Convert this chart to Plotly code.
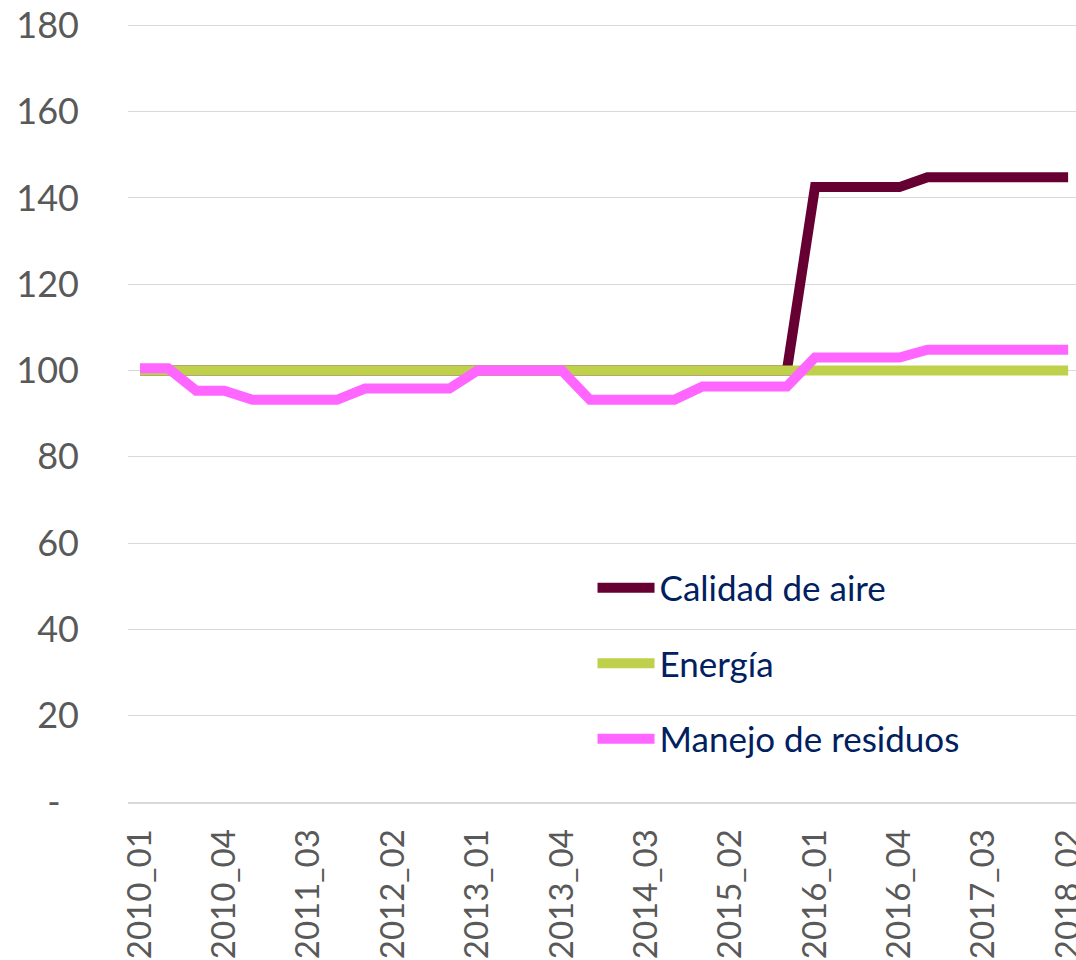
import plotly.graph_objects as go

categories = [f"{y}_{q:02d}" for y in range(2010, 2019) for q in range(1, 5)][:34]

calidad_aire = [100, 100, 100, 100, 100, 100, 100, 100, 100, 100, 100, 100,
                100, 100, 100, 100, 100, 100, 100, 100, 100, 100, 100, 100,
                142.5, 142.5, 142.5, 142.5, 144.8, 144.8, 144.8, 144.8, 144.8, 144.8]
energia = [100] * 34
manejo_residuos = [100.5, 100.5, 95.3, 95.3, 93.2, 93.2, 93.2, 93.2, 95.8, 95.8, 95.8, 95.8,
                   100, 100, 100, 100, 93.2, 93.2, 93.2, 93.2, 96.3, 96.3, 96.3, 96.3,
                   103, 103, 103, 103, 104.8, 104.8, 104.8, 104.8, 104.8, 104.8]

series_names = ["Calidad de aire", "Energía", "Manejo de residuos"]
series_colors = ["#660033", "#BFD04A", "#FF66FF"]

x_tick_labels = categories[::3]
y_tick_vals = [0, 20, 40, 60, 80, 100, 120, 140, 160, 180]
y_tick_text = ["-\u00a0\u00a0"] + [str(v) for v in y_tick_vals[1:]]

fig = go.Figure()
for name, vals, col in zip(series_names, [calidad_aire, energia, manejo_residuos], series_colors):
    fig.add_trace(go.Scatter(
        x=categories, y=vals, mode="lines", name=name, legendgroup=name,
        line=dict(color=col, width=10),
        hoverinfo="x+y+name",
    ))

fig.update_layout(
    width=1076, height=960,
    margin=dict(l=128, r=0, t=24, b=158),
    plot_bgcolor="white", paper_bgcolor="white",
    font=dict(family="Lato, Liberation Sans, sans-serif", color="#595959"),
    showlegend=True,
    legend=dict(
        x=0.490, y=0.313, xanchor="left", yanchor="top",
        bgcolor="rgba(0,0,0,0)",
        font=dict(size=35, color="#002060"),
        tracegroupgap=27,
        itemwidth=57,
    ),
    xaxis=dict(
        type="category",
        range=[-0.427, 33.28],
        tickmode="array", tickvals=x_tick_labels, ticktext=x_tick_labels,
        tickangle=-90,
        tickfont=dict(size=33, color="#595959"),
        showgrid=False,
        showline=True, linecolor="#D9D9D9", linewidth=2,
        ticks="", ticklabelstandoff=12,
        zeroline=False,
        automargin=False,
    ),
    yaxis=dict(
        range=[0, 180.3],
        tickmode="array", tickvals=y_tick_vals, ticktext=y_tick_text,
        tickfont=dict(size=36, color="#595959"),
        showgrid=True, gridcolor="#D9D9D9", gridwidth=1,
        zeroline=False, showline=False,
        ticks="", ticklabelstandoff=48,
        automargin=False,
    ),
)

fig.write_html("out.html", config={"displayModeBar": False},
               post_script="document.body.style.margin='0px';")
